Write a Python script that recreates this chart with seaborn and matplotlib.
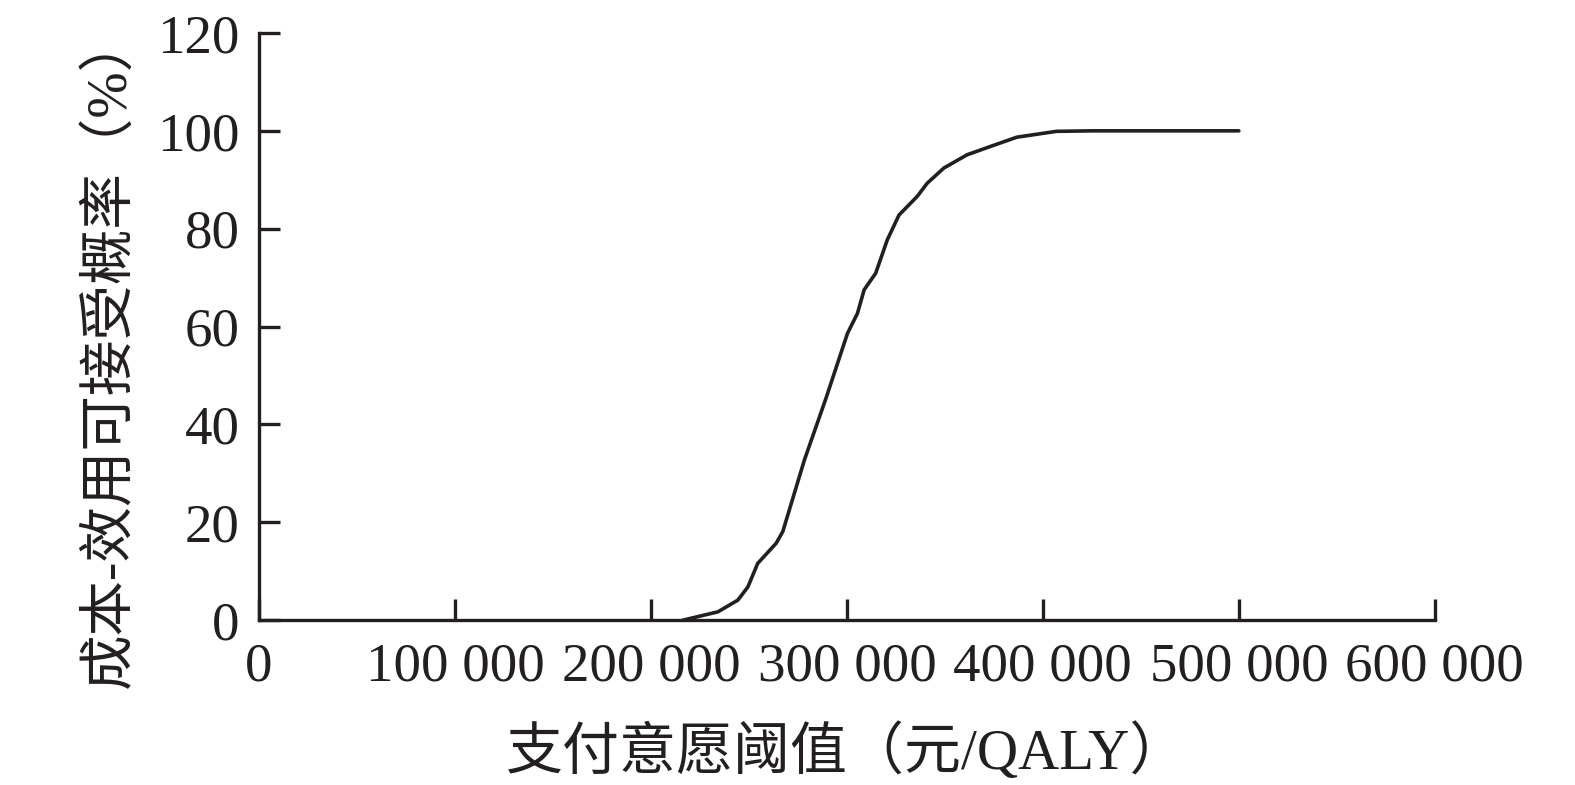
import matplotlib
matplotlib.use("Agg")
import matplotlib.pyplot as plt
import matplotlib.ticker as mticker
import pandas as pd
import seaborn as sns

# Values
wtp = [216400, 234200, 244400, 249500, 254500, 263900, 267300, 278300, 289300,
       300300, 305400, 308800, 314700, 320600, 326600, 335900, 341000, 349500,
       361300, 373200, 386700, 407000, 425700, 500000]
prob = [0.0, 1.7, 4.1, 6.8, 11.6, 15.7, 18.1, 32.7, 45.3,
        58.6, 62.7, 67.5, 70.9, 77.7, 82.8, 86.6, 89.3, 92.4,
        95.1, 96.8, 98.7, 99.9, 100.0, 100.0]

x_ticks = [0, 100000, 200000, 300000, 400000, 500000, 600000]
y_ticks = [0, 20, 40, 60, 80, 100, 120]

df = pd.DataFrame({"wtp": wtp, "prob": prob})

sns.set_style("ticks")
plt.rcParams["font.family"] = ["Liberation Serif", "Noto Sans CJK SC"]
plt.rcParams["axes.unicode_minus"] = False

fig = plt.figure(figsize=(15.75, 7.85), dpi=100)
ax = fig.add_axes([0.1644, 0.210, 0.7466, 0.748])

sns.lineplot(data=df, x="wtp", y="prob", color="#231f20", linewidth=2.6, ax=ax)

ax.set_xlim(0, 600000)
ax.set_ylim(0, 120)
ax.set_xticks(x_ticks)
ax.set_yticks(y_ticks)
ax.xaxis.set_major_formatter(mticker.FuncFormatter(lambda v, p: f"{int(v):,}".replace(",", " ")))

for s in ["top", "right"]:
    ax.spines[s].set_visible(False)
for s in ["left", "bottom"]:
    ax.spines[s].set_linewidth(2.4)
    ax.spines[s].set_color("#231f20")

ax.tick_params(direction="in", length=15, width=2.4, colors="#231f20",
               labelsize=39.5, labelcolor="#231f20")
ax.tick_params(axis="x", pad=16)
ax.tick_params(axis="y", pad=14)

ax.set_xlabel("支付意愿阈值（元/QALY）", fontsize=41, color="#231f20", labelpad=22)
ax.set_ylabel("成本-效用可接受概率（%）", fontsize=40, color="#231f20")
ax.yaxis.set_label_coords(-0.104, 0.46)

fig.savefig("out.png", dpi=100)
